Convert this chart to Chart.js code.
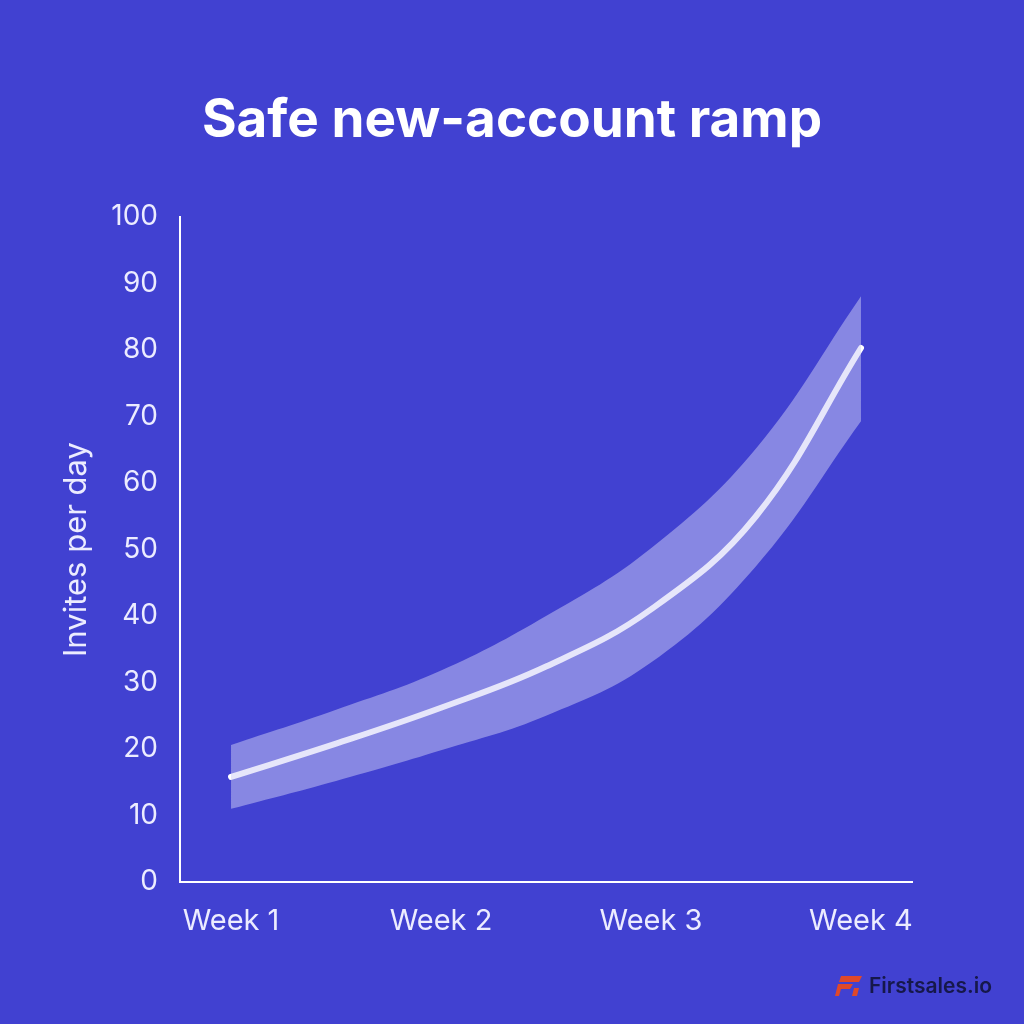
<!DOCTYPE html>
<html>
<head>
<meta charset="utf-8">
<script src="https://cdn.jsdelivr.net/npm/chart.js@4/dist/chart.umd.min.js"></script>
<style>
  html, body { margin: 0; padding: 0; background: #4141d1; }
  #wrap { position: relative; width: 1024px; height: 1024px; }
  #title {
    position: absolute; left: 0; top: 92px; width: 1024px;
    text-align: center; margin: 0;
    font-family: Inter, "Noto Sans", sans-serif; font-weight: 700;
    font-size: 53px; line-height: 53px; color: #ffffff;
  }
  #brand {
    position: absolute; right: 32px; bottom: 26px;
    display: flex; align-items: center; gap: 6px;
    font-family: Inter, "Noto Sans", sans-serif; font-weight: 600;
    font-size: 21px; color: #16184a;
  }
</style>
</head>
<body>
<div id="wrap">
  <canvas id="rampChart" width="1024" height="1024"></canvas>
  <h1 id="title">Safe new-account ramp</h1>
  <div id="brand">
    <svg width="28" height="24" viewBox="0 0 28 24">
      <polygon points="6,2 27,2 24,8 4,8" fill="#e0482a"/>
      <polygon points="3,10 18,10 15,15 6,15 4,22 0,22" fill="#e0482a"/>
      <polygon points="19,14 24,14 22,22 17,22" fill="#e0482a"/>
    </svg>
    <span>Firstsales.io</span>
  </div>
</div>
<script>
const weeks = [1, 1.5, 2, 2.5, 3, 3.5, 4];
const ramp = [15.8, 20.8, 26.2, 32.4, 41, 55, 80.3];
const upper = [20.6, 25.9, 31.8, 40, 50.2, 65.2, 88.1];
const lower = [11, 15.2, 19.8, 25, 33, 47.5, 69.3];
const weekTicks = [1, 2, 3, 4];
const yTicks = [0, 10, 20, 30, 40, 50, 60, 70, 80, 90, 100];

const toPoints = (values) => values.map((v, i) => ({ x: weeks[i], y: v }));

const textColor = "#ececff";
const fontFamily = "Inter, 'Noto Sans', sans-serif";

const context = document.getElementById("rampChart").getContext("2d");
new Chart(context, {
  type: "line",
  data: {
    datasets: [
      {
        data: toPoints(upper),
        borderWidth: 0,
        pointRadius: 0,
        backgroundColor: "rgba(205, 205, 245, 0.5)",
        fill: "+1",
        tension: 0.4
      },
      {
        data: toPoints(lower),
        borderWidth: 0,
        pointRadius: 0,
        fill: false,
        tension: 0.4
      },
      {
        data: toPoints(ramp),
        borderColor: "#ffffff",
        borderWidth: 6,
        borderCapStyle: "round",
        pointRadius: 0,
        fill: false,
        tension: 0.4
      }
    ]
  },
  options: {
    responsive: false,
    animation: false,
    layout: { padding: { left: 58, right: 112, top: 217, bottom: 0 } },
    plugins: {
      legend: { display: false },
      tooltip: { enabled: false }
    },
    scales: {
      x: {
        type: "linear",
        min: 0.757,
        max: 4.243,
        afterBuildTicks: (scale) => {
          scale.ticks = weekTicks.map((value) => ({ value }));
        },
        afterFit: (scale) => { scale.height = 142; },
        grid: { display: false, drawTicks: false },
        border: { display: true, color: "#ffffff", width: 2 },
        ticks: {
          color: textColor,
          padding: 22,
          font: { family: fontFamily, size: 29 },
          callback: (value) => "Week " + value
        }
      },
      y: {
        min: 0,
        max: 100,
        afterBuildTicks: (scale) => {
          scale.ticks = yTicks.map((value) => ({ value }));
        },
        afterFit: (scale) => { scale.width = 122; },
        grid: { display: false, drawTicks: false },
        border: { display: true, color: "#ffffff", width: 2 },
        ticks: {
          color: textColor,
          padding: 22,
          font: { family: fontFamily, size: 28 }
        },
        title: {
          display: true,
          text: "Invites per day",
          color: textColor,
          font: { family: fontFamily, size: 31 },
          padding: { top: 0, bottom: 0 }
        }
      }
    }
  }
});
</script>
</body>
</html>
